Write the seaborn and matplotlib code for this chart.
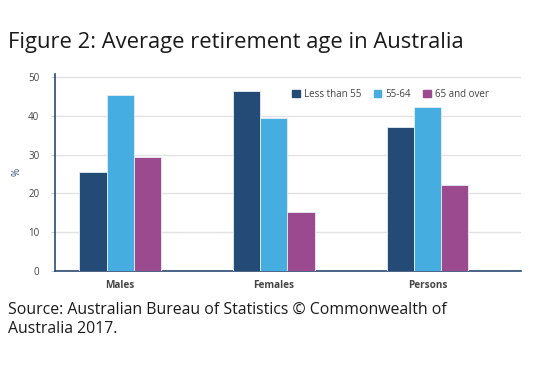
import pandas as pd
import matplotlib.pyplot as plt
import seaborn as sns

groups = ['Males', 'Females', 'Persons']
age_bands = ['Less than 55', '55-64', '65 and over']
less_than_55 = [25.5, 46.3, 37.0]
age_55_64 = [45.5, 39.4, 42.3]
over_65 = [29.5, 15.3, 22.1]
colours = ['#244a76', '#45ade0', '#9b4a8f']

data = pd.DataFrame({
    'group': groups * 3,
    'band': [b for b in age_bands for _ in groups],
    'value': less_than_55 + age_55_64 + over_65,
})

sns.set_style('white')
plt.rcParams['font.family'] = ['Open Sans', 'DejaVu Sans']

fig = plt.figure(figsize=(5.35, 3.7), dpi=100)
ax = fig.add_axes([0.102, 0.268, 0.871, 0.532])

sns.barplot(data=data, x='group', y='value', hue='band', hue_order=age_bands,
            palette=colours, width=0.53, edgecolor='#e8eef5', linewidth=0.6,
            saturation=1, ax=ax, zorder=3)

ax.set_xlim(-0.427, 2.605)
ax.set_ylim(0, 50.8)
ax.set_yticks([0, 10, 20, 30, 40, 50])
ax.yaxis.grid(True, color='#e3e3e3', linewidth=1, zorder=0)
ax.set_axisbelow(True)
for s in ['top', 'right']:
    ax.spines[s].set_visible(False)
for s in ['left', 'bottom']:
    ax.spines[s].set_color('#2c4a72')
    ax.spines[s].set_linewidth(1.2)
ax.tick_params(axis='y', left=True, length=3, color='#cccccc', labelsize=7,
               labelcolor='#444444', pad=8)
ax.tick_params(axis='x', bottom=False, labelsize=7.2, labelcolor='#444444', pad=3)
for lbl in ax.get_xticklabels():
    lbl.set_fontweight('bold')
ax.set_xlabel('')
ax.set_ylabel('%', fontsize=7, color='#2c4a72', labelpad=4)

handles = [plt.Rectangle((0, 0), 1, 1, color=c) for c in colours]
ax.legend(handles, age_bands, loc='upper right', bbox_to_anchor=(0.95, 0.97),
          ncol=3, frameon=False, fontsize=7, handlelength=0.8, handleheight=0.8,
          handletextpad=0.4, columnspacing=1.25, labelcolor='#444444')

fig.text(0.015, 0.87, 'Figure 2: Average retirement age in Australia',
         fontsize=15.8, color='#1a1a1a')
fig.text(0.015, 0.1, 'Source: Australian Bureau of Statistics \u00a9 Commonwealth of\nAustralia 2017.',
         fontsize=11.4, color='#1a1a1a', linespacing=1.25)

fig.savefig('out.png', dpi=100)
